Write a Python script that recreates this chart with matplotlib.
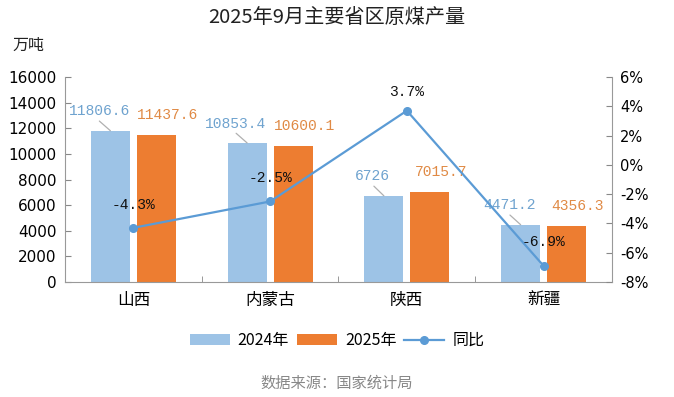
import matplotlib
matplotlib.use("Agg")
import matplotlib.pyplot as plt
import numpy as np

plt.rcParams['font.family'] = ['Noto Sans CJK SC', 'DejaVu Sans']

categories = ["山西", "内蒙古", "陕西", "新疆"]
v2024 = [11806.6, 10853.4, 6726, 4471.2]
v2025 = [11437.6, 10600.1, 7015.7, 4356.3]
yoy = [-4.3, -2.5, 3.7, -6.9]
label2024 = ["11806.6", "10853.4", "6726", "4471.2"]
label2025 = ["11437.6", "10600.1", "7015.7", "4356.3"]
yoy_labels = ["-4.3%", "-2.5%", "3.7%", "-6.9%"]
left_ticks = [0, 2000, 4000, 6000, 8000, 10000, 12000, 14000, 16000]
right_ticks = [-8, -6, -4, -2, 0, 2, 4, 6]

c24 = "#9DC3E6"
c25 = "#ED7D31"
cline = "#5B9BD5"
lab24 = "#6FA3CF"
lab25 = "#E08A45"
mono = ['Liberation Mono', 'DejaVu Sans Mono']

fig = plt.figure(figsize=(6.74, 3.97), dpi=100)
ax = fig.add_axes([0.0964, 0.2897, 0.8116, 0.5163])
x = np.arange(len(categories))
w = 0.285
off = 0.168
b1 = ax.bar(x - off, v2024, w, color=c24, label="2024年", zorder=2)
b2 = ax.bar(x + off, v2025, w, color=c25, label="2025年", zorder=2)
ax.set_xlim(-0.5, len(categories) - 0.5)
ax.set_ylim(0, 16000)
ax.set_yticks(left_ticks)
ax.set_yticklabels([str(t) for t in left_ticks], fontsize=11, family=['DejaVu Sans'])
ax.set_xticks(x)
ax.set_xticklabels(categories, fontsize=12)
ax.tick_params(axis='x', length=0, pad=7)
ax.set_xticks(np.arange(0.5, len(categories) - 0.5, 1), minor=True)
ax.tick_params(axis='x', which='minor', length=4, direction='in', color='#888888')
ax.tick_params(axis='y', direction='in', length=4, color='#888888', pad=6)
for s in ['top', 'right']:
    ax.spines[s].set_visible(False)
for s in ['left', 'bottom']:
    ax.spines[s].set_color('#999999')

ax2 = ax.twinx()
ax2.set_ylim(-8, 6)
ax2.set_yticks(right_ticks)
ax2.set_yticklabels([f"{t}%" for t in right_ticks], fontsize=10.5, family=['DejaVu Sans'])
ax2.tick_params(axis='y', direction='in', length=4, color='#888888', pad=6)
for s in ['top', 'left', 'bottom']:
    ax2.spines[s].set_visible(False)
ax2.spines['right'].set_color('#999999')
ln, = ax2.plot(x, yoy, color=cline, marker='o', markersize=5.5, linewidth=1.6, label="同比", zorder=3)

# bar labels
for i in range(len(categories)):
    ax.annotate(label2024[i], xy=(x[i] - off, v2024[i]), xytext=(-8, 14), textcoords='offset points',
                ha='center', va='center', color=lab24, fontsize=10.5, family=mono,
                arrowprops=dict(arrowstyle='-', color='#b0b0b0', lw=0.9, shrinkA=0, shrinkB=0,
                                relpos=(0.45, 0.0)))
    ax.annotate(label2025[i], xy=(x[i] + off, v2025[i]), xytext=(8, 14.5), textcoords='offset points',
                ha='center', va='center', color=lab25, fontsize=10.5, family=mono)

yoy_off = [(0, 16.5), (0, 17), (0, 13.5), (0, 17)]
for i in range(len(categories)):
    ax2.annotate(yoy_labels[i], xy=(x[i], yoy[i]), xytext=yoy_off[i], textcoords='offset points',
                 ha='center', va='center', color='#111111', fontsize=10.5, family=mono)

fig.text(0.5, 0.957, "2025年9月主要省区原煤产量", ha='center', va='center', fontsize=14.5,
         color='#222222', fontweight='medium')
fig.text(0.018, 0.887, "万吨", ha='left', va='center', fontsize=11.5, color='#222222')

handles = [b1, b2, ln]
fig.legend(handles, ["2024年", "2025年", "同比"], loc='center', bbox_to_anchor=(0.5, 0.142), ncol=3,
           frameon=False, fontsize=11.5, handlelength=2.5, handleheight=0.7, columnspacing=0.5,
           handletextpad=0.5)
fig.text(0.5, 0.035, "数据来源：国家统计局", ha='center', va='center', fontsize=11, color='#888888')

fig.savefig("out.png", dpi=100)
